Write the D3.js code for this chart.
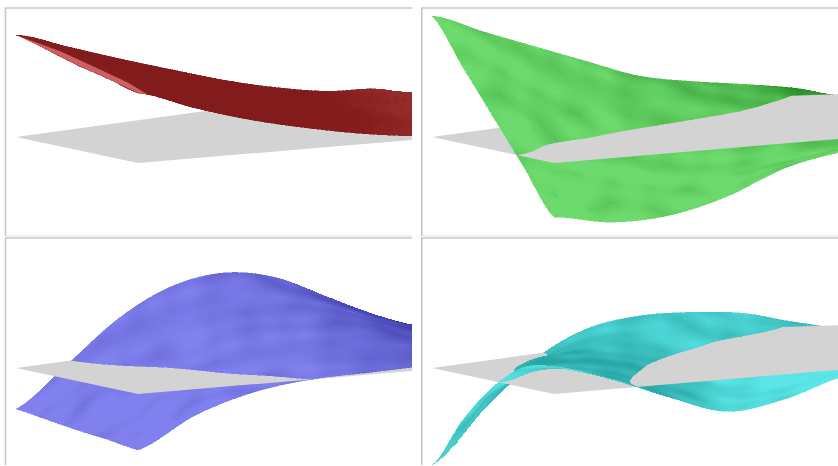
<!DOCTYPE html>
<html><head><meta charset="utf-8">
<script src="https://d3js.org/d3.v7.min.js"></script>
<style>html,body{margin:0;padding:0;background:#fff}svg{display:block}</style></head>
<body><div id="chart"></div>
<script>
// grid positions on the base plane
const uGrid = [0, 0.25, 0.5, 0.75, 1];
const vGrid = [0, 0.125, 0.25, 0.375, 0.5, 0.625, 0.75, 0.875, 1];
// surface heights (row = u, column = v)
const redZ = [
  [1.02, .83, .64, .46, .285, .14, .03, -.02, -.18],
  [.94, .74, .56, .39, .24, .11, .03, .02, .0],
  [.85, .66, .49, .33, .19, .08, .03, .02, .02],
  [.78, .58, .41, .26, .14, .05, .03, .03, .03],
  [.70, .50, .33, .20, .095, .03, .03, .03, .03]];
const greenZ = [
  [1.21, .98, .76, .54, .325, .20, .10, -.01, -.16],
  [.77, .53, .28, .19, .10, .03, -.03, -.07, -.15],
  [.335, .01, -.07, -.17, -.19, -.17, -.12, -.10, -.12],
  [-.10, -.30, -.38, -.40, -.32, -.25, -.18, -.14, -.12],
  [-.54, -.64, -.62, -.48, -.245, -.13, -.08, -.05, -.03]];
const blueZ = [
  [-.41, -.03, .36, .60, .665, .55, .28, .0, -.15],
  [-.45, -.09, .12, .42, .50, .42, .22, .02, -.09],
  [-.49, -.14, .0, .26, .34, .30, .16, .03, -.04],
  [-.52, -.20, -.05, .06, .17, .17, .10, .05, .02],
  [-.56, -.26, -.08, .0, .02, .04, .05, .06, .08]];
const tealZ = [
  [-.97, -.47, -.05, .18, .235, .20, .12, -.04, -.17],
  [-.46, .0, .10, .14, .06, -.04, -.07, -.08, -.10],
  [-.06, .10, .10, -.02, -.15, -.16, -.10, -.07, -.05],
  [.20, .12, -.01, -.18, -.25, -.17, -.09, -.05, -.02],
  [.27, .10, -.13, -.32, -.245, -.07, -.03, -.01, .0]];
// shading (0 = lit, 1 = shadow)
const redShade = [
  [.9, 1, 1, 1, 1, 1, .95, .5, .45],
  [.9, 1, 1, 1, 1, 1, .75, .45, .45],
  [.9, 1, 1, 1, 1, .95, .5, .45, .45],
  [.9, 1, 1, 1, 1, .8, .45, .45, .45],
  [.9, 1, 1, 1, .9, .5, .45, .45, .45]];
const greenShade = [
  [.05, .08, .12, .18, .25, .35, .5, .85, .9],
  [.05, .08, .12, .15, .18, .28, .35, .6, .7],
  [.03, .05, .08, .12, .12, .18, .3, .4, .5],
  [.0, .02, .03, .06, .06, .12, .25, .35, .4],
  [.0, .0, .0, .03, .06, .15, .3, .35, .35]];
const blueShade = [
  [0, .05, .1, .15, .2, .4, .8, 1, 1],
  [0, .05, .1, .1, .2, .4, .75, 1, 1],
  [0, .05, .05, .1, .2, .4, .7, .9, .9],
  [0, 0, .05, .1, .2, .45, .6, .7, .7],
  [0, 0, .05, .1, .2, .4, .5, .5, .5]];
const tealShade = [
  [.5, .6, .6, .45, .4, .4, .45, .6, .7],
  [.4, .8, .75, .55, .35, .35, .35, .4, .4],
  [.1, .8, .8, .7, .2, .1, .15, .25, .3],
  [.1, .7, .9, .6, .1, 0, .1, .2, .3],
  [.2, .6, .7, .3, .05, 0, .05, .15, .2]];
// facet mottling, read as a repeating tile
const facetTile = [
  [0, .8, -.6, .2, -.9, .5, 0, -.4],
  [-.7, .1, .9, -.5, .3, -.2, .8, -.1],
  [.4, -.8, .2, .7, -.6, .9, -.3, .3],
  [-.2, .5, -.9, .1, .6, -.7, .4, -.8],
  [.9, -.3, .4, -.6, 0, .3, -.9, .6],
  [-.5, .7, -.1, .8, -.4, -.1, .6, -.2]];
// outline of the grey base plane in (u, v)
const planeU = [0, 0, .2, .6, 1, 1];
const planeV = [0, .68, .9, 1.05, 1.05, 0];
// the pale fold along the red surface's near edge
const foldU = [0, .25, .5, .75, 1];
const foldV = [0, .035, .05, .045, .02];

const panels = [
  {z: redZ, shade: redShade, lit: "#a83c3e", dark: "#821a1a", facet: .03, grain: .5, dx: 0, dy: 0, right: 412, top: 8, bottom: 236},
  {z: greenZ, shade: greenShade, lit: "#6cda6c", dark: "#238723", facet: .26, grain: 0, dx: 416, dy: 0, right: 838, top: 8, bottom: 236},
  {z: blueZ, shade: blueShade, lit: "#8080ee", dark: "#3737a5", facet: .2, grain: 0, dx: 0, dy: 231, right: 412, top: 238, bottom: 466},
  {z: tealZ, shade: tealShade, lit: "#5ae6e6", dark: "#28a5a5", facet: .32, grain: 0, dx: 416, dy: 231, right: 838, top: 238, bottom: 466}
];

const W = 838, H = 466;
const svg = d3.select("#chart").append("svg").attr("width", W).attr("height", H);
const defs = svg.append("defs");
defs.append("filter").attr("id", "soft").attr("x", "-5%").attr("y", "-5%").attr("width", "110%").attr("height", "110%")
  .append("feGaussianBlur").attr("stdDeviation", .6);

// plane projection: the four plane corners, blended with scales
const x0 = d3.scaleLinear([0, 1], [16, 430]), x1 = d3.scaleLinear([0, 1], [138, 600]);
const y0 = d3.scaleLinear([0, 1], [137, 80]), y1 = d3.scaleLinear([0, 1], [163, 124]);
const zPx = d3.scaleLinear([0, 1], [0, 100]);
const px = (u, v) => x0(v) + (x1(v) - x0(v)) * u;
const py = (u, v) => y0(v) + (y1(v) - y0(v)) * u;

function cr(a, t) {
  const n = a.length - 1, s = Math.max(0, Math.min(n - 1e-9, t)), i = Math.floor(s), f = s - i;
  const p0 = a[Math.max(0, i - 1)], p1 = a[i], p2 = a[i + 1], p3 = a[Math.min(n, i + 2)];
  return .5 * (2 * p1 + (p2 - p0) * f + (2 * p0 - 5 * p1 + 4 * p2 - p3) * f * f + (3 * p1 - p0 - 3 * p2 + p3) * f * f * f);
}
const uIdx = d3.scaleLinear(d3.extent(uGrid), [0, uGrid.length - 1]);
const vIdx = d3.scaleLinear(d3.extent(vGrid), [0, vGrid.length - 1]);
const sample = (g, u, v) => cr(g.map(r => cr(r, vIdx(v))), uIdx(u));
function tile(tu0, tv0) {
  const rows = facetTile.length, cols = facetTile[0].length;
  const tu = (tu0 % rows + rows) % rows, tv = (tv0 % cols + cols) % cols;
  const i = Math.floor(tu), j = Math.floor(tv), fu = tu - i, fv = tv - j;
  const a = facetTile[i][j], b = facetTile[i][(j + 1) % cols], c = facetTile[(i + 1) % rows][j], d = facetTile[(i + 1) % rows][(j + 1) % cols];
  return d3.interpolate(d3.interpolate(a, b)(fv), d3.interpolate(c, d)(fv))(fu);
}
// split a quad at the plane (z = 0): keep the part on the requested side
function side(verts, sign) {
  const out = [];
  verts.forEach((a, i) => {
    const b = verts[(i + 1) % verts.length];
    const ia = a.z * sign >= 0, ib = b.z * sign >= 0;
    if (ia) out.push(a.p);
    if (ia !== ib) {
      const t = a.z / (a.z - b.z);
      out.push([a.p[0] + (b.p[0] - a.p[0]) * t, a.p[1] + (b.p[1] - a.p[1]) * t]);
    }
  });
  return out;
}
const NU = 50, NV = 90;
const line = d3.line();

panels.forEach((p, k) => {
  const clipId = "clip" + k;
  defs.append("clipPath").attr("id", clipId).append("rect")
    .attr("x", p.dx + 6).attr("y", p.top).attr("width", p.right - p.dx - 6).attr("height", p.bottom - p.top);
  const g = svg.append("g").attr("clip-path", `url(#${clipId})`).append("g").attr("filter", "url(#soft)")
    .attr("transform", `translate(${p.dx},${p.dy})`);
  const color = d3.interpolateRgb(p.lit, p.dark);
  const vert = (u, v) => {
    const z = sample(p.z, u, v);
    return {z, p: [px(u, v), py(u, v) - zPx(z)]};
  };
  const grid = d3.range(NU + 1).map(i => d3.range(NV + 1).map(j => vert(i / NU, j / NV)));
  const below = [], above = [];
  for (let i = 0; i < NU; i++) for (let j = 0; j < NV; j++) {
    const q = [grid[i][j], grid[i][j + 1], grid[i + 1][j + 1], grid[i + 1][j]];
    if (Math.min(...q.map(d => d.p[0])) + p.dx > p.right + 4) continue;
    const um = (i + .5) / NU, vm = (j + .5) / NV, s = sample(p.shade, um, vm);
    const t = s + p.facet * tile(um * 10 + vm * 8, vm * 16 - um * 3) + p.grain * (1 - s) * tile(um * 60, vm * 110);
    const shade = Math.max(0, Math.min(1, t));
    const up = side(q, 1), down = side(q, -1);
    if (down.length > 2) below.push({path: down, t: shade});
    if (up.length > 2) above.push({path: up, t: shade});
  }
  const draw = arr => g.append("g").attr("shape-rendering", "crispEdges").selectAll("path").data(arr).join("path")
    .attr("d", d => line(d.path) + "Z")
    .attr("fill", d => color(d.t)).attr("stroke", d => color(d.t)).attr("stroke-width", .5);
  draw(below);
  g.append("path").attr("fill", "#d3d3d3")
    .attr("d", line(planeU.map((u, i) => [px(u, planeV[i]), py(u, planeV[i])])) + "Z");
  draw(above);
  if (k === 0) {
    const edge = foldU.map(u => vert(u, 0).p);
    const inner = foldU.map((u, i) => vert(u, foldV[i]).p).reverse();
    g.append("path").attr("fill", "#cc6062").attr("d", line(edge.concat(inner)) + "Z");
  }
});
// panel frames
const frames = [[5.5, 8, 412, 237], [421.8, 8, 838, 237], [5.5, 238, 412, 466], [421.8, 238, 838, 466]];
svg.append("g").selectAll("path").data(frames).join("path")
  .attr("fill", "none").attr("stroke", "#c8c8c8").attr("stroke-width", 1.6)
  .attr("d", d => `M${d[0]},${d[3] - 1}V${d[1]}H${d[2]}`);
svg.append("g").selectAll("path").data(frames.slice(0, 2)).join("path")
  .attr("fill", "none").attr("stroke", "#dedede").attr("stroke-width", 1.2)
  .attr("d", d => `M${d[0] + 1},236H${d[2]}`);
</script></body></html>
